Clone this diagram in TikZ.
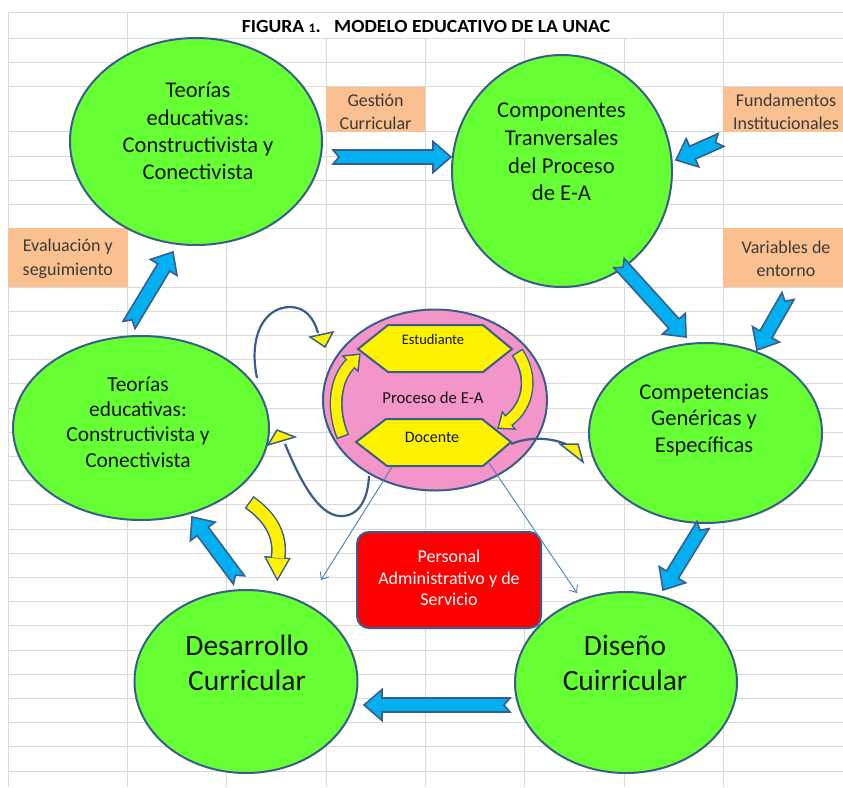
\documentclass[tikz,border=0pt]{standalone}
\usepackage{fontspec}
\setmainfont{Carlito}
\usetikzlibrary{calc,arrows.meta,shapes.geometric}

\definecolor{gridc}{HTML}{D9D9D9}
\definecolor{bordc}{HTML}{3A5E8C}
\definecolor{greenc}{HTML}{66FF33}
\definecolor{bluec}{HTML}{00B0F0}
\definecolor{orangec}{HTML}{FAC090}
\definecolor{pinkc}{HTML}{F495C9}
\definecolor{thinc}{HTML}{4A7EBB}
\definecolor{txtc}{HTML}{141414}
\definecolor{celltxt}{HTML}{3B3B3B}

\tikzset{
  gridline/.style={draw=gridc, line width=1pt},
  celltext/.style={text=celltxt, align=center, inner sep=0pt, font=\fontsize{18}{23.5}\selectfont},
  greenell/.style={ellipse, draw=bordc, line width=2pt, fill=greenc, inner sep=0pt},
  elltext/.style={align=center, text=txtc, inner sep=0pt},
  blockarr/.style={draw=bordc, line width=1.6pt, fill=bluec, line join=miter},
  hexa/.style={draw=bordc, line width=2pt, fill=yellow, line join=miter},
  curveline/.style={draw=bordc, line width=2.2pt},
  ytri/.style={draw=bordc, line width=1.5pt, fill=yellow, line join=miter},
  thinarr/.style={draw=thinc, line width=0.9pt, -{Straight Barb[length=6pt,width=10pt]}},
  ybandout/.style={draw=bordc, line width=#1},
  ybandin/.style={draw=yellow, line width=#1},
  yhead/.style={draw=bordc, line width=3pt, fill=yellow, line join=miter},
}

\newcommand{\blockarrow}[2]{%
  \coordinate (bah) at ($(#2)!18pt!(#1)$);
  \path[blockarr] ($(#1)!7pt!90:(#2)$) -- ($(bah)!7pt!90:(#2)$) -- ($(bah)!15.5pt!90:(#2)$) -- (#2) -- ($(bah)!15.5pt!-90:(#2)$) -- ($(bah)!7pt!-90:(#2)$) -- ($(#1)!7pt!-90:(#2)$) -- ($(#1)!6pt!(#2)$) -- cycle;
}

\begin{document}
\begin{tikzpicture}[x=1pt,y=-1pt]
\useasboundingbox[fill=white] (0,0) rectangle (843,787);

% ---- grid ----
\foreach \yy in {12.7,38.3,62.7,86.7,131.7,156,180,204,228,287,311.2,335.4,359.6,383.8,408,432.2,456.4,480.6,504.8,529,553.2,577.4,601.6,625.8,650,674.2,698.4,722.6,746.8,771}
  \draw[gridline] (8,\yy) -- (843,\yy);
\foreach \xx in {8,127.7,723.3}
  \draw[gridline] (\xx,12.7) -- (\xx,787);
\foreach \xx in {226.7,326,425.3,524.6,624}
  \draw[gridline] (\xx,38.3) -- (\xx,787);

% ---- orange cells ----
\fill[orangec] (326,86.7) rectangle (425.3,131.7);
\fill[orangec] (723.3,86.7) rectangle (843,131.7);
\fill[orangec] (8,228) rectangle (127.7,287);
\fill[orangec] (723.3,228) rectangle (843,287);
\node[celltext] (gest) at (375.6,112) {Gestión\\Curricular};
\node[celltext] (fund) at (786,112) {Fundamentos\\Institucionales};
\node[celltext] (eval) at (67.8,259) {Evaluación y\\seguimiento};
\node[celltext] (vari) at (786,259) {Variables de\\entorno};

% ---- title ----
\node[font=\bfseries\fontsize{18.5}{20}\selectfont, text=black, inner sep=0pt] (title) at (426,27)
  {\scalebox{1.06}[1]{FIGURA {\fontsize{13}{14}\selectfont 1}.\ \ \ MODELO EDUCATIVO DE LA UNAC}};

% ---- green ellipses ----
\node[greenell, minimum width=252pt, minimum height=207pt] (tl) at (196,141.5) {};
\node[greenell, minimum width=220pt, minimum height=232pt] (tr) at (562,171) {};
\node[greenell, minimum width=256pt, minimum height=184pt] (ml) at (141,428) {};
\node[greenell, minimum width=233pt, minimum height=180pt] (mr) at (705.5,433) {};
\node[greenell, minimum width=223pt, minimum height=183pt] (bl) at (246,681.5) {};
\node[greenell, minimum width=222pt, minimum height=181pt] (br) at (626,682.5) {};

\node[elltext, font=\fontsize{22.5}{27.2}\selectfont] (tl-t) at (198,131) {Teorías\\educativas:\\Constructivista y\\Conectivista};
\node[elltext, font=\fontsize{22.7}{27.7}\selectfont] (tr-t) at (561.5,152) {Componentes\\Tranversales\\del Proceso\\de E-A};
\node[elltext, font=\fontsize{21.4}{25.4}\selectfont] (ml-t) at (138,422) {Teorías\\educativas:\\Constructivista y\\Conectivista};
\node[elltext, font=\fontsize{22.5}{26.5}\selectfont] (mr-t) at (704,420) {Competencias\\Genéricas y\\Específicas};
\node[elltext, font=\fontsize{29.5}{35}\selectfont] (bl-t) at (247,663) {Desarrollo\\Curricular};
\node[elltext, font=\fontsize{29.5}{35}\selectfont] (br-t) at (625,663) {Diseño\\Cuirricular};

% ---- pink process ellipse ----
\node[ellipse, draw=bordc, line width=2pt, fill=pinkc, minimum width=224pt, minimum height=181pt, inner sep=0pt] (pink) at (435,400) {};

% inner yellow curved arrows
\draw[ybandout=13pt] (343,437) .. controls (332,410) and (334,380) .. (351,363);
\path[yhead] (344.6,356.6) -- (359,355) -- (357.4,369.4) -- cycle;
\draw[ybandin=10pt, shorten <=1.5pt] (343,437) .. controls (332,410) and (334,380) .. (351,363);
\fill[yellow] (344.6,356.6) -- (359,355) -- (357.4,369.4) -- cycle;

\draw[ybandout=13pt] (517,352) .. controls (533,375) and (530,405) .. (508,421);
\path[yhead] (513.3,428.3) -- (499,427.5) -- (502.7,413.7) -- cycle;
\draw[ybandin=10pt, shorten <=1.5pt] (517,352) .. controls (533,375) and (530,405) .. (508,421);
\fill[yellow] (513.3,428.3) -- (499,427.5) -- (502.7,413.7) -- cycle;

% hexagons
\path[hexa] (358,349) -- (388,325) -- (483,325) -- (512,349) -- (483,372) -- (388,372) -- cycle;
\path[hexa] (356,442) -- (386,419) -- (482,419) -- (511,442) -- (483,466) -- (387,466) -- cycle;
\node[elltext, font=\fontsize{14.5}{16}\selectfont] (estu) at (433,340) {Estudiante};
\node[elltext, font=\fontsize{16}{18}\selectfont] (doce) at (432,437) {Docente};
\node[elltext, font=\fontsize{16.7}{19}\selectfont] (proc) at (433,398) {Proceso de E-A};

% ---- red box ----
\node[draw=bordc, line width=2pt, fill=red, rounded corners=12pt, minimum width=184pt, minimum height=96pt, inner sep=0pt] (pers) at (449,580) {};
\node[elltext, text=white, font=\fontsize{18}{21.5}\selectfont] (pers-t) at (449,578) {Personal\\Administrativo y de\\Servicio};

% ---- blue block arrows ----
\coordinate (a1s) at (333,157); \coordinate (a1e) at (451,157);
\coordinate (a2s) at (721,140); \coordinate (a2e) at (676,160);
\coordinate (a3s) at (619,263); \coordinate (a3e) at (686,337);
\coordinate (a4s) at (788,296); \coordinate (a4e) at (757,350);
\coordinate (a5s) at (703,525); \coordinate (a5e) at (663,590);
\coordinate (a6s) at (510,705); \coordinate (a6e) at (364,705);
\coordinate (a7s) at (239,580); \coordinate (a7e) at (192,517);
\coordinate (a8s) at (129,325); \coordinate (a8e) at (173,252);
\blockarrow{a1s}{a1e}
\blockarrow{a2s}{a2e}
\blockarrow{a3s}{a3e}
\blockarrow{a4s}{a4e}
\blockarrow{a5s}{a5e}
\blockarrow{a6s}{a6e}
\blockarrow{a7s}{a7e}
\blockarrow{a8s}{a8e}

% ---- outer yellow curved arrow ----
\draw[ybandout=15pt] (249,502) .. controls (266,514) and (282,532) .. (278,558);
\path[yhead] (266.5,557.7) -- (277.3,578.3) -- (288.3,559.3) -- cycle;
\draw[ybandin=12pt, shorten <=1.5pt] (249,502) .. controls (266,514) and (282,532) .. (278,558);
\fill[yellow] (266.5,557.7) -- (277.3,578.3) -- (288.3,559.3) -- cycle;

% ---- dark curved connectors ----
\coordinate (c1s) at (257,378); \coordinate (c1e) at (318,333);
\draw[curveline] (c1s) .. controls (248,335) and (265,307) .. (290,307) .. controls (305,307) and (314,318) .. (c1e);
\path[ytri] (310,337) -- (333,332) -- (325,347) -- cycle;

\coordinate (c2s) at (369,476); \coordinate (c2e) at (285,444);
\draw[curveline] (c2s) .. controls (368,500) and (358,517) .. (340,516) .. controls (318,515) and (300,480) .. (c2e);
\path[ytri] (268,445) -- (277,430) -- (295,437) -- cycle;

\coordinate (c3s) at (511,444); \coordinate (c3e) at (566,444);
\draw[curveline] (c3s) .. controls (528,437) and (548,437) .. (c3e);
\path[ytri] (560,444) -- (578,444) -- (583,462) -- cycle;

% ---- thin arrows ----
\coordinate (t1s) at (392,467); \coordinate (t1e) at (321,580);
\coordinate (t2s) at (489,463); \coordinate (t2e) at (577,593);
\draw[thinarr] (t1s) -- (t1e);
\draw[thinarr] (t2s) -- (t2e);

\end{tikzpicture}
\end{document}
